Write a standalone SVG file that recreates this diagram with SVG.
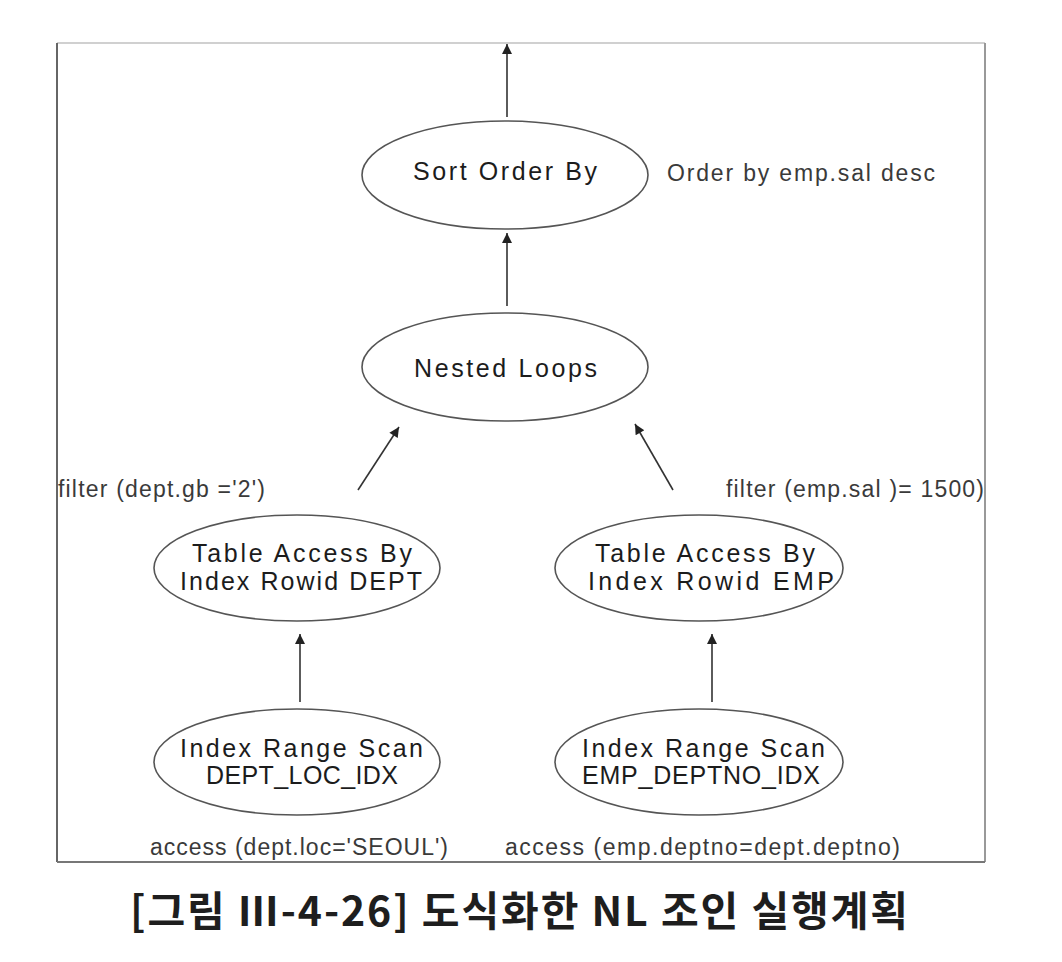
<svg xmlns="http://www.w3.org/2000/svg" width="1062" height="962" viewBox="0 0 1062 962">
<style>
.node ellipse{fill:#fff;stroke:#555;stroke-width:1.6}
.lbl{font-family:"Liberation Sans","Noto Sans CJK KR",sans-serif;font-size:25px;fill:#1c1c1c}
.ann{font-family:"Liberation Sans","Noto Sans CJK KR",sans-serif;font-size:23px;fill:#3a3a3a}
.cap{font-family:"Noto Sans CJK KR","Liberation Sans",sans-serif;font-size:41px;font-weight:bold;fill:#1e1e1e}
.edge{stroke:#333;stroke-width:1.6;fill:none;marker-end:url(#arr)}
</style>
<defs>
<marker id="arr" viewBox="0 0 10 10" refX="10" refY="5" markerWidth="13" markerHeight="10" markerUnits="userSpaceOnUse" orient="auto">
<path d="M0,0 L10,5 L0,10 z" fill="#222"/>
</marker>
</defs>
<rect width="1062" height="962" fill="#fff"/>
<g id="frame">
<line x1="57" y1="43" x2="985" y2="43" stroke="#d0d0d0" stroke-width="2"/>
<line x1="57" y1="43" x2="57" y2="862" stroke="#666" stroke-width="2"/>
<line x1="985" y1="43" x2="985" y2="862" stroke="#999" stroke-width="2"/>
<line x1="57" y1="862" x2="985" y2="862" stroke="#777" stroke-width="2"/>
</g>
<g id="connectors">
<line class="edge" x1="507" y1="117" x2="507" y2="44"/>
<line class="edge" x1="507" y1="306" x2="507" y2="233"/>
<line class="edge" x1="358" y1="490" x2="399" y2="427"/>
<line class="edge" x1="673" y1="490" x2="635" y2="424"/>
<line class="edge" x1="300" y1="702" x2="300" y2="634"/>
<line class="edge" x1="712" y1="702" x2="712" y2="634"/>
</g>
<g id="sort" class="node">
<ellipse cx="505" cy="175" rx="143" ry="54"/>
<text class="lbl" x="413" y="180" textLength="184" lengthAdjust="spacing">Sort Order By</text>
</g>
<g id="nested" class="node">
<ellipse cx="505" cy="367" rx="143" ry="54"/>
<text class="lbl" x="414" y="377" textLength="183" lengthAdjust="spacing">Nested Loops</text>
</g>
<g id="tab-dept" class="node">
<ellipse cx="297" cy="568" rx="143" ry="53"/>
<text class="lbl" x="192" y="562" textLength="220" lengthAdjust="spacing">Table Access By</text>
<text class="lbl" x="180" y="590" textLength="242" lengthAdjust="spacing">Index Rowid DEPT</text>
</g>
<g id="idx-dept" class="node">
<ellipse cx="297" cy="762" rx="143" ry="53"/>
<text class="lbl" x="180" y="757" textLength="243" lengthAdjust="spacing">Index Range Scan</text>
<text class="lbl" x="206" y="784" textLength="192" lengthAdjust="spacing">DEPT_LOC_IDX</text>
</g>
<g id="tab-emp" class="node">
<ellipse cx="699" cy="568" rx="144" ry="53"/>
<text class="lbl" x="595" y="562" textLength="220" lengthAdjust="spacing">Table Access By</text>
<text class="lbl" x="588" y="590" textLength="246" lengthAdjust="spacing">Index Rowid EMP</text>
</g>
<g id="idx-emp" class="node">
<ellipse cx="699" cy="762" rx="144" ry="53"/>
<text class="lbl" x="582" y="757" textLength="243" lengthAdjust="spacing">Index Range Scan</text>
<text class="lbl" x="582" y="784" textLength="238" lengthAdjust="spacing">EMP_DEPTNO_IDX</text>
</g>
<g id="annotations">
<text class="ann" x="667" y="181" textLength="268" lengthAdjust="spacing">Order by emp.sal desc</text>
<text class="ann" x="58" y="497" textLength="207" lengthAdjust="spacing">filter (dept.gb ='2')</text>
<text class="ann" x="726" y="497" textLength="258" lengthAdjust="spacing">filter (emp.sal )= 1500)</text>
<text class="ann" x="150" y="855" textLength="298" lengthAdjust="spacing">access (dept.loc='SEOUL')</text>
<text class="ann" x="505" y="855" textLength="395" lengthAdjust="spacing">access (emp.deptno=dept.deptno)</text>
</g>
<text class="cap" x="130" y="926" textLength="778" lengthAdjust="spacing">[그림 Ⅲ-4-26] 도식화한 NL 조인 실행계획</text>
</svg>
